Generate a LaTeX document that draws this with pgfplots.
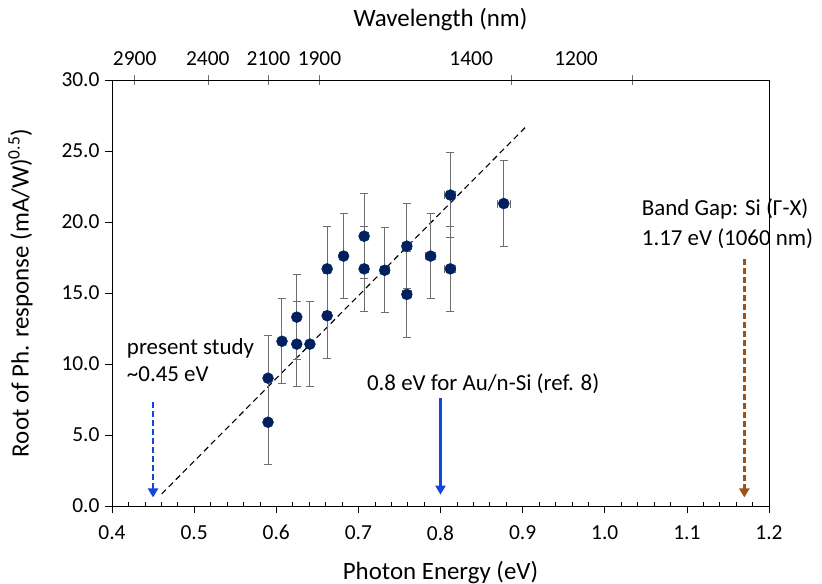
\documentclass[border=0pt]{standalone}
\usepackage{pgfplots}
\pgfplotsset{compat=1.18}
\usetikzlibrary{arrows.meta}
\usepackage{fontspec}
\setmainfont{Carlito}
\definecolor{navy}{RGB}{0,32,96}
\definecolor{errgray}{RGB}{110,110,110}
\definecolor{arrblue}{RGB}{20,70,220}
\definecolor{brown}{RGB}{160,82,20}
\pgfplotsset{commonax/.style={scale only axis, width=657bp, height=426bp,
  xmin=0.4, xmax=1.2, ymin=0, ymax=30}}
\begin{document}
\begin{tikzpicture}
\begin{axis}[
  commonax,
  xtick={0.4,0.5,0.6,0.7,0.8,0.9,1.0,1.1,1.2},
  ytick={0,5,10,15,20,25,30},
  minor x tick num=4,
  xtick pos=bottom, ytick pos=left,
  tick align=outside,
  major tick length=7bp, minor tick length=4bp,
  minor x tick style={yshift=4bp},
  tick style={black, line width=0.6bp},
  axis line style={line width=0.8bp},
  /pgf/number format/.cd, fixed, fixed zerofill, precision=1, assume math mode=true,
  /pgfplots/.cd,
  tick label style={font=\fontsize{21.5}{24}\selectfont},
  xticklabel style={yshift=-9bp},
  yticklabel style={xshift=-2bp},
  label style={font=\fontsize{25}{29}\selectfont},
  xlabel={Photon Energy (eV)},
  ylabel={Root of Ph. response (mA/W)\textsuperscript{0.5})},
  xlabel style={yshift=-14bp},
  ylabel style={yshift=22bp},
  clip=false,
]
\coordinate (ll) at (rel axis cs:0,0);
\addplot[black, dashed, line width=1.1bp, dash pattern=on 6bp off 4bp] coordinates {(0.4605,0.85) (0.905,26.76)};
\addplot[only marks, mark=*, mark size=5.5bp, mark options={fill=navy, draw=navy},
  error bars/.cd, x dir=both, x explicit, y dir=both, y explicit,
  error bar style={errgray, line width=1bp},
  error mark options={errgray, line width=1bp, mark size=4bp, rotate=90}]
  table[x=x, y=y, x error=ex, y error=ey] {
x y ex ey
0.590 9.0 0.0035 3.0
0.590 5.9 0.0035 3.0
0.607 11.6 0.0037 3.0
0.625 13.3 0.0039 3.0
0.625 11.4 0.0039 3.0
0.641 11.4 0.0041 3.0
0.662 13.4 0.0044 3.0
0.662 16.7 0.0044 3.0
0.682 17.6 0.0047 3.0
0.707 19.0 0.0050 3.0
0.707 16.7 0.0050 3.0
0.732 16.6 0.0054 3.0
0.759 18.3 0.0058 3.0
0.759 14.9 0.0058 3.0
0.788 17.6 0.0062 3.0
0.812 21.9 0.0066 3.0
0.812 16.7 0.0066 3.0
0.877 21.3 0.0077 3.0
};
\draw[arrblue, line width=2.4bp, dash pattern=on 6bp off 3bp, -{Triangle[length=9bp,width=10bp]}] (axis cs:0.45,7.3) -- (axis cs:0.45,0.6);
\draw[arrblue, line width=2.4bp, -{Triangle[length=9bp,width=10bp]}] (axis cs:0.8,7.6) -- (axis cs:0.8,0.8);
\draw[brown, line width=2.4bp, dash pattern=on 6bp off 3bp, -{Triangle[length=9bp,width=10bp]}] (axis cs:1.17,17.4) -- (axis cs:1.17,0.6);
\node[anchor=west, align=left, font=\fontsize{23}{27}\selectfont, inner sep=0pt] at (axis cs:0.418,10.3) {present study\\\textasciitilde0.45 eV};
\node[anchor=center, font=\fontsize{23}{27}\selectfont, inner sep=0pt] at (axis cs:0.852,8.64) {0.8 eV for Au/n-Si (ref. 8)};
\node[anchor=west, align=left, font=\fontsize{23}{30}\selectfont, inner sep=0pt] at (axis cs:1.045,19.86) {Band Gap: Si (Γ-X)\\1.17 eV (1060 nm)};
\end{axis}
% top axis: tick marks
\begin{axis}[
  commonax,
  axis x line*=top, axis y line=none,
  xtick={0.42759,0.51667,0.59048,0.65263,0.88571,1.03333},
  xticklabels={},
  tick align=center, major tick length=10bp,
  tick style={errgray, line width=0.6bp},
  axis line style={line width=0.8bp},
  label style={font=\fontsize{25}{29}\selectfont},
  xlabel={Wavelength (nm)},
  xlabel style={yshift=34bp},
]
\end{axis}
% top axis: labels (placed as in the original)
\begin{axis}[
  commonax,
  axis x line*=top, axis y line=none,
  x axis line style={draw=none},
  xtick={0.42759,0.51667,0.59048,0.65263,0.8373,0.965},
  xticklabels={2900,2400,2100,1900,1400,1200},
  major tick length=0bp,
  tick style={draw=none},
  tick label style={font=\fontsize{21.5}{24}\selectfont},
  xticklabel style={yshift=11bp},
]
\end{axis}
\pgfresetboundingbox
\path[use as bounding box] ([shift={(-112bp,-78bp)}]ll) rectangle ++(822bp,584bp);
\end{tikzpicture}
\end{document}
